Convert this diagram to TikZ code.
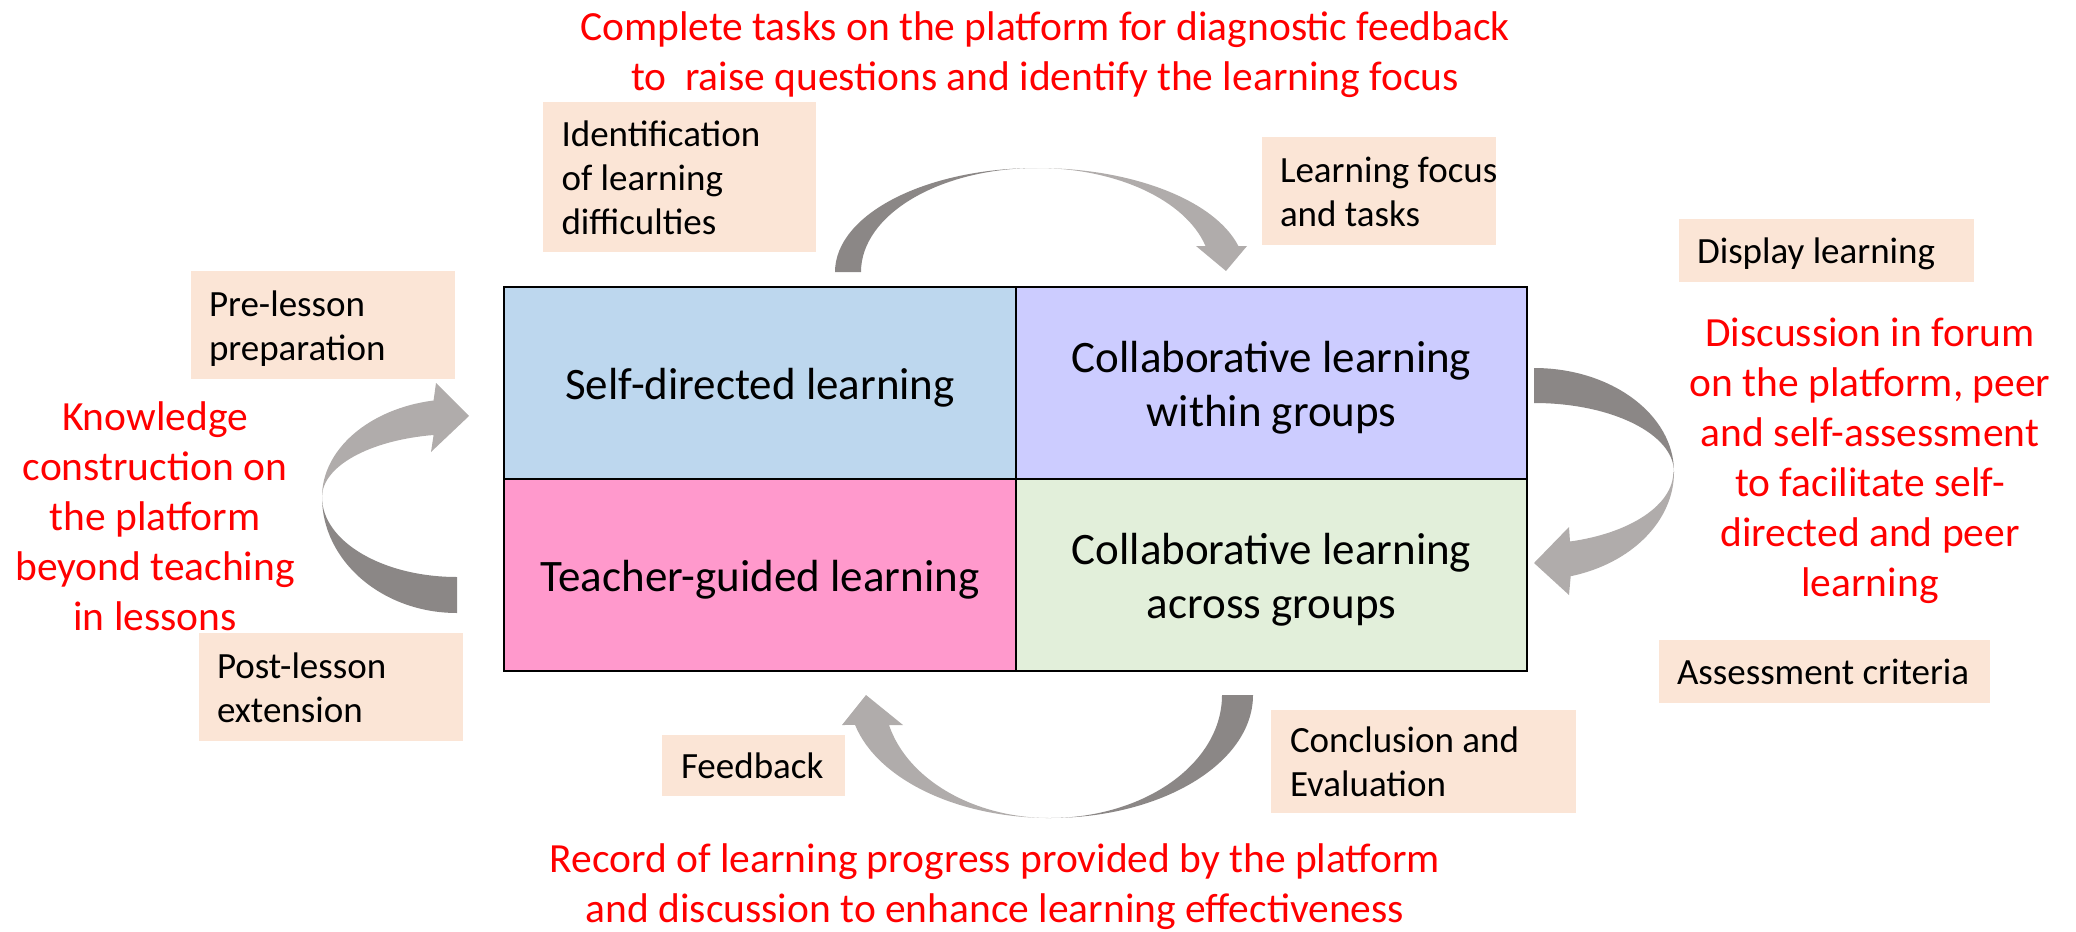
\documentclass[tikz,border=0pt]{standalone}
\usepackage{fontspec}
\setmainfont{Carlito}
\definecolor{peach}{HTML}{FBE5D6}
\definecolor{cellblue}{HTML}{BDD7EE}
\definecolor{celllilac}{HTML}{CCCCFF}
\definecolor{cellpink}{HTML}{FF99CC}
\definecolor{cellgreen}{HTML}{E2EFDA}
\definecolor{arrowdark}{HTML}{8B8786}
\definecolor{arrowlight}{HTML}{B0ACAB}
\definecolor{notered}{HTML}{FF0000}
% left-aligned label lines inside a box of fixed inner width, set a little low
\newcommand\taglines[2]{\makebox[#1][l]{\raisebox{-4.5pt}[\height][\depth]{\begin{tabular}{@{}l@{}}#2\end{tabular}}}}
% centred quadrant title lines, set a little low
\newcommand\celllines[1]{\raisebox{-6pt}[\height][\depth]{\begin{tabular}{@{}c@{}}#1\end{tabular}}}
\begin{document}
\begin{tikzpicture}[x=1pt,y=1pt,
  cell/.style={draw=black,line width=2.5pt,minimum height=192pt,
    inner sep=0pt,font=\fontsize{45}{54}\selectfont},
  tag/.style={fill=peach,inner sep=0pt,font=\fontsize{37}{44}\selectfont},
  note/.style={text=notered,align=center,inner sep=0pt,font=\fontsize{41.5}{50}\selectfont},
  back/.style={fill=arrowdark},
  front/.style={fill=arrowlight}]
\useasboundingbox (0,0) rectangle (2076,-931);

% four quadrants of learning
\node[cell,fill=cellblue,minimum width=512pt]  (self)   at (760,-383) {\celllines{Self-directed learning}};
\node[cell,fill=celllilac,minimum width=511pt] (within) at (1271.5,-383) {\celllines{Collaborative learning\\within groups}};
\node[cell,fill=cellpink,minimum width=512pt]  (teach)  at (760,-575) {\celllines{Teacher-guided learning}};
\node[cell,fill=cellgreen,minimum width=511pt] (across) at (1271.5,-575) {\celllines{Collaborative learning\\across groups}};

% stage labels
\node[tag,minimum width=273pt,minimum height=150pt] (ident) at (679.5,-177) {\taglines{236pt}{Identification\\of learning\\difficulties}};
\node[tag,minimum width=234pt,minimum height=108pt] (focus) at (1379,-191) {\taglines{198pt}{Learning focus\\and tasks}};
\node[tag,minimum width=295pt,minimum height=63pt] (display) at (1826.5,-250.5) {\taglines{259pt}{Display learning}};
\node[tag,minimum width=331pt,minimum height=63pt] (assess) at (1824.5,-671.5) {\taglines{295pt}{Assessment criteria}};
\node[tag,minimum width=264pt,minimum height=108pt] (pre) at (323,-325) {\taglines{228pt}{Pre-lesson\\preparation}};
\node[tag,minimum width=264pt,minimum height=108pt] (post) at (331,-687) {\taglines{228pt}{Post-lesson\\extension}};
\node[tag,minimum width=183pt,minimum height=61pt] (feed) at (753.5,-765.5) {\taglines{145pt}{Feedback}};
\node[tag,minimum width=305pt,minimum height=103pt] (concl) at (1423.5,-761.5) {\taglines{267pt}{Conclusion and\\Evaluation}};

% platform descriptions
\node[note] (topnote) at (1045,-54.5) {Complete tasks on the platform for diagnostic feedback\\to\ \ raise questions and identify the learning focus};
\node[note] (rightnote) at (1870,-461) {Discussion in forum\\on the platform, peer\\and self-assessment\\to facilitate self-\\directed and peer\\learning};
\node[note] (leftnote) at (155,-516) {Knowledge\\construction on\\the platform\\beyond teaching\\in lessons};
\node[note] (bottomnote) at (995,-887) {Record of learning progress provided by the platform\\and discussion to enhance learning effectiveness};

% top curved arrow
\fill[back] (835,-272) arc[start angle=180,end angle=90,x radius=202,y radius=104]
  arc[start angle=90,end angle=180,x radius=176,y radius=104] -- cycle;
\fill[front] (1037,-168) arc[start angle=90,end angle=14.48,x radius=208,y radius=104]
  -- (1247,-246) -- (1226,-271) -- (1196,-246) -- (1205.5,-246)
  arc[start angle=14.48,end angle=90,x radius=174,y radius=104] -- cycle;

% right curved arrow
\fill[back] (1534,-368) arc[start angle=90,end angle=0,x radius=140,y radius=104]
  arc[start angle=0,end angle=90,x radius=140,y radius=69] -- cycle;
\fill[front] (1674,-472) arc[start angle=0,end angle=-74.8,x radius=140,y radius=108]
  -- (1569,-595) -- (1534,-563) -- (1569,-527) -- (1570,-541.5)
  arc[start angle=-74.8,end angle=0,x radius=140,y radius=72] -- cycle;

% bottom curved arrow
\fill[back] (1253,-695) arc[start angle=0,end angle=-90,x radius=203,y radius=123]
  arc[start angle=-90,end angle=0,x radius=172,y radius=123] -- cycle;
\fill[front] (1050,-818) arc[start angle=-90,end angle=-165.9,x radius=201,y radius=123]
  -- (842,-725) -- (866,-695) -- (903,-725) -- (889,-725)
  arc[start angle=-165.9,end angle=-90,x radius=166,y radius=123] -- cycle;

% left curved arrow
\fill[back] (457,-613) arc[start angle=270,end angle=180,x radius=135,y radius=116]
  arc[start angle=180,end angle=270,x radius=135,y radius=80] -- cycle;
\fill[front] (322,-497) arc[start angle=180,end angle=100,x radius=135,y radius=98]
  -- (436,-383) -- (469,-416) -- (431,-452) -- (433.6,-435)
  arc[start angle=100,end angle=180,x radius=135,y radius=63] -- cycle;
\end{tikzpicture}
\end{document}
